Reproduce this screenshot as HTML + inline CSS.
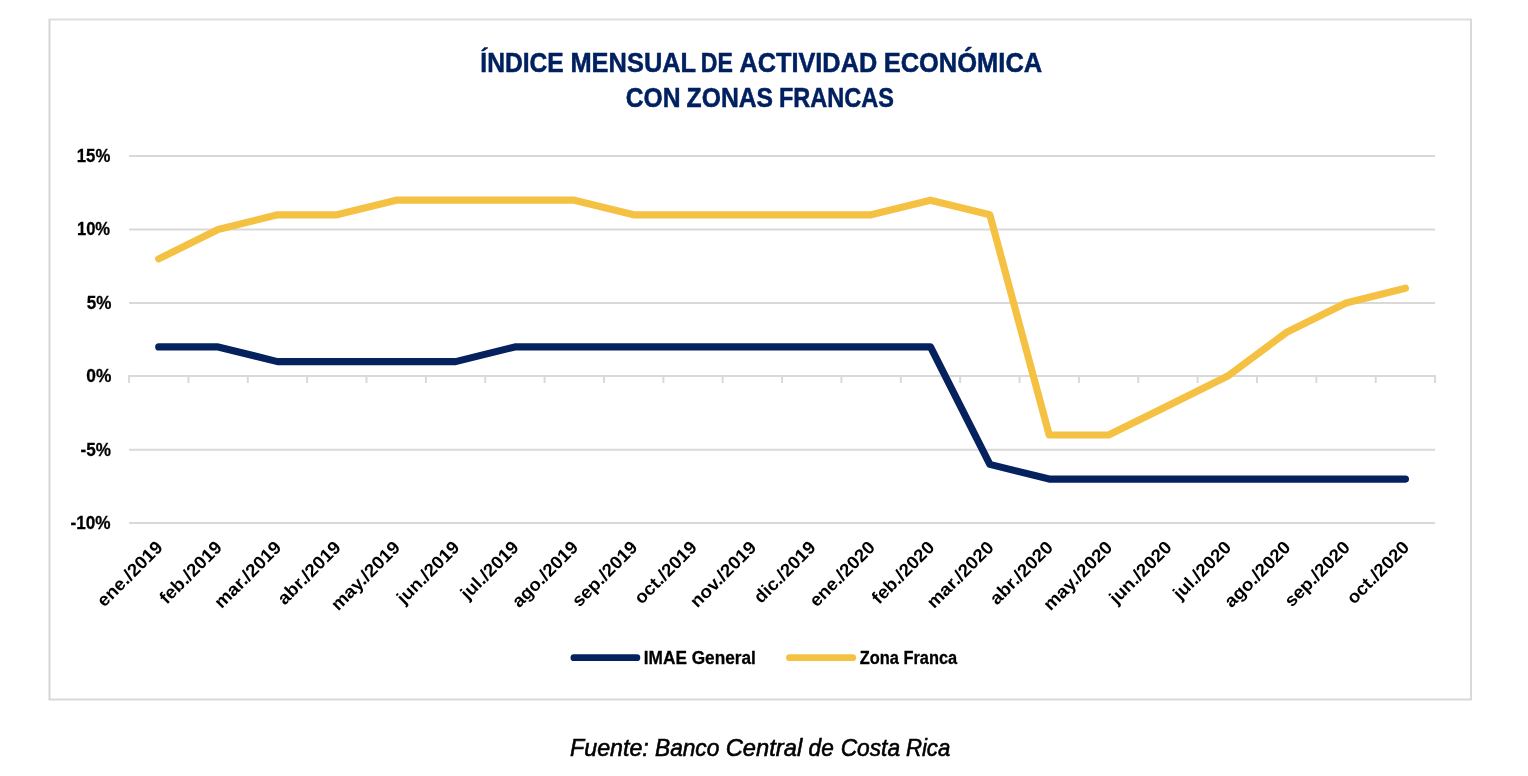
<!DOCTYPE html><html><head><meta charset="utf-8"><style>html,body{margin:0;padding:0;background:#fff;overflow:hidden;}svg{display:block;will-change:transform;}text{font-family:"Liberation Sans",sans-serif;}</style></head><body>
<svg width="1528" height="776" viewBox="0 0 1528 776">
<rect x="0" y="0" width="1528" height="776" fill="#fff"/>
<line x1="48.5" y1="19.5" x2="1472.0" y2="19.5" stroke="#DEDEDE" stroke-width="2"/>
<line x1="48.5" y1="699.5" x2="1472.0" y2="699.5" stroke="#D9D9D9" stroke-width="2"/>
<line x1="49.5" y1="19.5" x2="49.5" y2="699.5" stroke="#D6D6D6" stroke-width="2"/>
<line x1="1471" y1="19.5" x2="1471" y2="699.5" stroke="#D9D9D9" stroke-width="2"/>
<line x1="129.05" y1="156.10" x2="1435.1" y2="156.10" stroke="#D9D9D9" stroke-width="2"/>
<line x1="129.05" y1="229.50" x2="1435.1" y2="229.50" stroke="#D9D9D9" stroke-width="2"/>
<line x1="129.05" y1="302.90" x2="1435.1" y2="302.90" stroke="#D9D9D9" stroke-width="2"/>
<line x1="129.05" y1="449.70" x2="1435.1" y2="449.70" stroke="#D9D9D9" stroke-width="2"/>
<line x1="129.05" y1="523.10" x2="1435.1" y2="523.10" stroke="#D9D9D9" stroke-width="2"/>
<path d="M129.05 382.95V376.05H1435.1V382.95" fill="none" stroke="#D9D9D9" stroke-width="2" stroke-linejoin="round"/>
<line x1="188.42" y1="376.05" x2="188.42" y2="382.95" stroke="#D9D9D9" stroke-width="2"/>
<line x1="247.78" y1="376.05" x2="247.78" y2="382.95" stroke="#D9D9D9" stroke-width="2"/>
<line x1="307.15" y1="376.05" x2="307.15" y2="382.95" stroke="#D9D9D9" stroke-width="2"/>
<line x1="366.51" y1="376.05" x2="366.51" y2="382.95" stroke="#D9D9D9" stroke-width="2"/>
<line x1="425.88" y1="376.05" x2="425.88" y2="382.95" stroke="#D9D9D9" stroke-width="2"/>
<line x1="485.25" y1="376.05" x2="485.25" y2="382.95" stroke="#D9D9D9" stroke-width="2"/>
<line x1="544.61" y1="376.05" x2="544.61" y2="382.95" stroke="#D9D9D9" stroke-width="2"/>
<line x1="603.98" y1="376.05" x2="603.98" y2="382.95" stroke="#D9D9D9" stroke-width="2"/>
<line x1="663.34" y1="376.05" x2="663.34" y2="382.95" stroke="#D9D9D9" stroke-width="2"/>
<line x1="722.71" y1="376.05" x2="722.71" y2="382.95" stroke="#D9D9D9" stroke-width="2"/>
<line x1="782.08" y1="376.05" x2="782.08" y2="382.95" stroke="#D9D9D9" stroke-width="2"/>
<line x1="841.44" y1="376.05" x2="841.44" y2="382.95" stroke="#D9D9D9" stroke-width="2"/>
<line x1="900.81" y1="376.05" x2="900.81" y2="382.95" stroke="#D9D9D9" stroke-width="2"/>
<line x1="960.17" y1="376.05" x2="960.17" y2="382.95" stroke="#D9D9D9" stroke-width="2"/>
<line x1="1019.54" y1="376.05" x2="1019.54" y2="382.95" stroke="#D9D9D9" stroke-width="2"/>
<line x1="1078.90" y1="376.05" x2="1078.90" y2="382.95" stroke="#D9D9D9" stroke-width="2"/>
<line x1="1138.27" y1="376.05" x2="1138.27" y2="382.95" stroke="#D9D9D9" stroke-width="2"/>
<line x1="1197.64" y1="376.05" x2="1197.64" y2="382.95" stroke="#D9D9D9" stroke-width="2"/>
<line x1="1257.00" y1="376.05" x2="1257.00" y2="382.95" stroke="#D9D9D9" stroke-width="2"/>
<line x1="1316.37" y1="376.05" x2="1316.37" y2="382.95" stroke="#D9D9D9" stroke-width="2"/>
<line x1="1375.73" y1="376.05" x2="1375.73" y2="382.95" stroke="#D9D9D9" stroke-width="2"/>
<text x="76.8" y="161.95" font-size="19.0" font-weight="bold" fill="#000" stroke="#000" stroke-width="0.3" textLength="33.5" lengthAdjust="spacingAndGlyphs">15%</text>
<text x="76.96" y="235.35" font-size="19.0" font-weight="bold" fill="#000" stroke="#000" stroke-width="0.3" textLength="33.13" lengthAdjust="spacingAndGlyphs">10%</text>
<text x="86.72" y="308.75" font-size="19.0" font-weight="bold" fill="#000" stroke="#000" stroke-width="0.3" textLength="24.68" lengthAdjust="spacingAndGlyphs">5%</text>
<text x="86.31" y="382.15" font-size="19.0" font-weight="bold" fill="#000" stroke="#000" stroke-width="0.3" textLength="25.06" lengthAdjust="spacingAndGlyphs">0%</text>
<text x="80.58" y="455.55" font-size="19.0" font-weight="bold" fill="#000" stroke="#000" stroke-width="0.3" textLength="30.42" lengthAdjust="spacingAndGlyphs">-5%</text>
<text x="70.53" y="528.95" font-size="19.0" font-weight="bold" fill="#000" stroke="#000" stroke-width="0.3" textLength="40.07" lengthAdjust="spacingAndGlyphs">-10%</text>
<text transform="translate(155.23 540.00) rotate(-45)" x="-83.99" y="12" font-size="18" font-weight="bold" fill="#000" textLength="83.99" lengthAdjust="spacingAndGlyphs">ene./2019</text>
<text transform="translate(214.60 540.00) rotate(-45)" x="-79.83" y="12" font-size="18" font-weight="bold" fill="#000" textLength="79.83" lengthAdjust="spacingAndGlyphs">feb./2019</text>
<text transform="translate(273.96 540.00) rotate(-45)" x="-86.07" y="12" font-size="18" font-weight="bold" fill="#000" textLength="86.07" lengthAdjust="spacingAndGlyphs">mar./2019</text>
<text transform="translate(333.33 540.00) rotate(-45)" x="-80.87" y="12" font-size="18" font-weight="bold" fill="#000" textLength="80.87" lengthAdjust="spacingAndGlyphs">abr./2019</text>
<text transform="translate(392.70 540.00) rotate(-45)" x="-89.18" y="12" font-size="18" font-weight="bold" fill="#000" textLength="89.18" lengthAdjust="spacingAndGlyphs">may./2019</text>
<text transform="translate(452.06 540.00) rotate(-45)" x="-79.82" y="12" font-size="18" font-weight="bold" fill="#000" textLength="79.82" lengthAdjust="spacingAndGlyphs">jun./2019</text>
<text transform="translate(511.43 540.00) rotate(-45)" x="-73.61" y="12" font-size="18" font-weight="bold" fill="#000" textLength="73.61" lengthAdjust="spacingAndGlyphs">jul./2019</text>
<text transform="translate(570.79 540.00) rotate(-45)" x="-85.01" y="12" font-size="18" font-weight="bold" fill="#000" textLength="85.01" lengthAdjust="spacingAndGlyphs">ago./2019</text>
<text transform="translate(630.16 540.00) rotate(-45)" x="-83.99" y="12" font-size="18" font-weight="bold" fill="#000" textLength="83.99" lengthAdjust="spacingAndGlyphs">sep./2019</text>
<text transform="translate(689.53 540.00) rotate(-45)" x="-79.83" y="12" font-size="18" font-weight="bold" fill="#000" textLength="79.83" lengthAdjust="spacingAndGlyphs">oct./2019</text>
<text transform="translate(748.89 540.00) rotate(-45)" x="-85.01" y="12" font-size="18" font-weight="bold" fill="#000" textLength="85.01" lengthAdjust="spacingAndGlyphs">nov./2019</text>
<text transform="translate(808.26 540.00) rotate(-45)" x="-78.8" y="12" font-size="18" font-weight="bold" fill="#000" textLength="78.8" lengthAdjust="spacingAndGlyphs">dic./2019</text>
<text transform="translate(867.62 540.00) rotate(-45)" x="-83.99" y="12" font-size="18" font-weight="bold" fill="#000" textLength="83.99" lengthAdjust="spacingAndGlyphs">ene./2020</text>
<text transform="translate(926.99 540.00) rotate(-45)" x="-79.83" y="12" font-size="18" font-weight="bold" fill="#000" textLength="79.83" lengthAdjust="spacingAndGlyphs">feb./2020</text>
<text transform="translate(986.36 540.00) rotate(-45)" x="-86.07" y="12" font-size="18" font-weight="bold" fill="#000" textLength="86.07" lengthAdjust="spacingAndGlyphs">mar./2020</text>
<text transform="translate(1045.72 540.00) rotate(-45)" x="-80.87" y="12" font-size="18" font-weight="bold" fill="#000" textLength="80.87" lengthAdjust="spacingAndGlyphs">abr./2020</text>
<text transform="translate(1105.09 540.00) rotate(-45)" x="-89.18" y="12" font-size="18" font-weight="bold" fill="#000" textLength="89.18" lengthAdjust="spacingAndGlyphs">may./2020</text>
<text transform="translate(1164.45 540.00) rotate(-45)" x="-79.82" y="12" font-size="18" font-weight="bold" fill="#000" textLength="79.82" lengthAdjust="spacingAndGlyphs">jun./2020</text>
<text transform="translate(1223.82 540.00) rotate(-45)" x="-73.61" y="12" font-size="18" font-weight="bold" fill="#000" textLength="73.61" lengthAdjust="spacingAndGlyphs">jul./2020</text>
<text transform="translate(1283.19 540.00) rotate(-45)" x="-85.01" y="12" font-size="18" font-weight="bold" fill="#000" textLength="85.01" lengthAdjust="spacingAndGlyphs">ago./2020</text>
<text transform="translate(1342.55 540.00) rotate(-45)" x="-83.99" y="12" font-size="18" font-weight="bold" fill="#000" textLength="83.99" lengthAdjust="spacingAndGlyphs">sep./2020</text>
<text transform="translate(1401.92 540.00) rotate(-45)" x="-79.83" y="12" font-size="18" font-weight="bold" fill="#000" textLength="79.83" lengthAdjust="spacingAndGlyphs">oct./2020</text>
<path d="M158.73 258.86 L218.10 229.50 L277.46 214.82 L336.83 214.82 L396.20 200.14 L455.56 200.14 L514.93 200.14 L574.29 200.14 L633.66 214.82 L693.03 214.82 L752.39 214.82 L811.76 214.82 L871.12 214.82 L930.49 200.14 L989.86 214.82 L1049.22 435.02 L1108.59 435.02 L1167.95 405.66 L1227.32 376.30 L1286.69 332.26 L1346.05 302.90 L1405.42 288.22" fill="none" stroke="#F5C143" stroke-width="7.2" stroke-linejoin="round" stroke-linecap="round"/>
<path d="M158.73 346.94 L218.10 346.94 L277.46 361.62 L336.83 361.62 L396.20 361.62 L455.56 361.62 L514.93 346.94 L574.29 346.94 L633.66 346.94 L693.03 346.94 L752.39 346.94 L811.76 346.94 L871.12 346.94 L930.49 346.94 L989.86 464.38 L1049.22 479.06 L1108.59 479.06 L1167.95 479.06 L1227.32 479.06 L1286.69 479.06 L1346.05 479.06 L1405.42 479.06" fill="none" stroke="#05225F" stroke-width="7.2" stroke-linejoin="round" stroke-linecap="round"/>
<text x="480.3" y="72.0" font-size="27.8" font-weight="bold" fill="#002060" stroke="#002060" stroke-width="0.5" textLength="83.41" lengthAdjust="spacingAndGlyphs">ÍNDICE</text>
<text x="570.45" y="72.0" font-size="27.8" font-weight="bold" fill="#002060" stroke="#002060" stroke-width="0.5" textLength="125.68" lengthAdjust="spacingAndGlyphs">MENSUAL</text>
<text x="700.7" y="72.0" font-size="27.8" font-weight="bold" fill="#002060" stroke="#002060" stroke-width="0.5" textLength="32.15" lengthAdjust="spacingAndGlyphs">DE</text>
<text x="739.42" y="72.0" font-size="27.8" font-weight="bold" fill="#002060" stroke="#002060" stroke-width="0.5" textLength="137.79" lengthAdjust="spacingAndGlyphs">ACTIVIDAD</text>
<text x="883.65" y="72.0" font-size="27.8" font-weight="bold" fill="#002060" stroke="#002060" stroke-width="0.5" textLength="158.58" lengthAdjust="spacingAndGlyphs">ECONÓMICA</text>
<text x="625.74" y="106.8" font-size="27.8" font-weight="bold" fill="#002060" stroke="#002060" stroke-width="0.5" textLength="54.77" lengthAdjust="spacingAndGlyphs">CON</text>
<text x="686.61" y="106.8" font-size="27.8" font-weight="bold" fill="#002060" stroke="#002060" stroke-width="0.5" textLength="86.5" lengthAdjust="spacingAndGlyphs">ZONAS</text>
<text x="778.98" y="106.8" font-size="27.8" font-weight="bold" fill="#002060" stroke="#002060" stroke-width="0.5" textLength="114.99" lengthAdjust="spacingAndGlyphs">FRANCAS</text>
<line x1="573.9" y1="657.7" x2="636.9" y2="657.7" stroke="#05225F" stroke-width="6.8" stroke-linecap="round"/>
<text x="643.8" y="663.6" font-size="18" font-weight="bold" fill="#000" stroke="#000" stroke-width="0.3" textLength="112.07" lengthAdjust="spacingAndGlyphs">IMAE General</text>
<line x1="789.5" y1="657.7" x2="852.7" y2="657.7" stroke="#F5C143" stroke-width="6.8" stroke-linecap="round"/>
<text x="859.76" y="663.6" font-size="18" font-weight="bold" fill="#000" stroke="#000" stroke-width="0.3" textLength="97.38" lengthAdjust="spacingAndGlyphs">Zona Franca</text>
<text x="570.09" y="755.5" font-size="24" font-style="italic" fill="#000" stroke="#000" stroke-width="0.6" textLength="78.74" lengthAdjust="spacingAndGlyphs">Fuente:</text>
<text x="655.0" y="755.5" font-size="24" font-style="italic" fill="#000" stroke="#000" stroke-width="0.6" textLength="64.32" lengthAdjust="spacingAndGlyphs">Banco</text>
<text x="725.69" y="755.5" font-size="24" font-style="italic" fill="#000" stroke="#000" stroke-width="0.6" textLength="76.48" lengthAdjust="spacingAndGlyphs">Central</text>
<text x="808.54" y="755.5" font-size="24" font-style="italic" fill="#000" stroke="#000" stroke-width="0.6" textLength="25.2" lengthAdjust="spacingAndGlyphs">de</text>
<text x="840.64" y="755.5" font-size="24" font-style="italic" fill="#000" stroke="#000" stroke-width="0.6" textLength="59.43" lengthAdjust="spacingAndGlyphs">Costa</text>
<text x="905.92" y="755.5" font-size="24" font-style="italic" fill="#000" stroke="#000" stroke-width="0.6" textLength="44.34" lengthAdjust="spacingAndGlyphs">Rica</text>
</svg></body></html>
